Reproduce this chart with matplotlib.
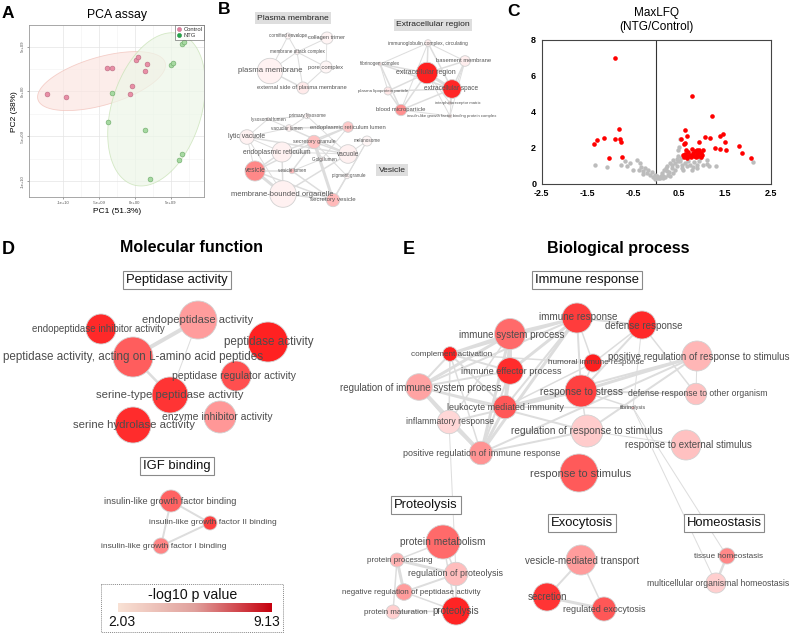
import numpy as np
import matplotlib
matplotlib.use("Agg")
import matplotlib.pyplot as plt
from matplotlib.patches import Circle, Rectangle
from matplotlib.lines import Line2D
from matplotlib.colors import LinearSegmentedColormap, Normalize

plt.rcParams['font.family'] = ['Liberation Sans', 'DejaVu Sans']
plt.rcParams['axes.unicode_minus'] = False

# ---------------- data ----------------
# Panel A: PCA scores
ctrl_pc1 = [-12.2e9, -9.6e9, -3.9e9, -3.15e9, -0.37e9, -0.74e9, 0.14e9, 0.37e9, 1.71e9, 1.39e9]
ctrl_pc2 = [-0.26e9, -0.63e9, 2.63e9, 2.63e9, 0.63e9, -0.33e9, 3.52e9, 3.78e9, 3.0e9, 2.26e9]
ntg_pc1 = [-3.15e9, -3.7e9, 1.34e9, 2.13e9, 6.06e9, 6.5e9, 4.95e9, 5.32e9, 6.53e9, 6.85e9]
ntg_pc2 = [-0.19e9, -3.41e9, -4.26e9, -9.78e9, -7.63e9, -6.93e9, 2.96e9, 3.22e9, 5.3e9, 5.52e9]
pca_ticks = [-1e10, -5e9, 0, 5e9]
pca_ticklabels = ["-1e+10", "-5e+09", "0e+00", "5e+09"]

# Panel C: volcano (log2 FC, -log10 p)
sig_fc = [-0.908, -0.821, -1.294, -1.352, -1.148, -0.908, -0.792, -0.763, -1.032, -0.749,
          0.778, 1.221, 0.625, 0.661, 0.538, 1.054, 1.170, 1.461, 1.395, 1.490, 0.930,
          1.810, 1.279, 1.395, 1.519, 1.868, 2.057, 0.603, 0.632,
          0.589, 0.632, 0.661, 0.698, 0.734, 0.770, 0.792, 0.821, 0.850, 0.879, 0.916,
          0.937, 0.966, 0.995, 1.010, 0.603, 0.676, 0.749, 0.807, 0.865, 0.923, 0.981,
          0.647, 0.712, 0.894]
sig_p = [7.00, 3.02, 2.43, 2.19, 2.51, 2.49, 2.47, 2.30, 1.42, 1.46,
         4.87, 3.74, 3.00, 2.65, 2.47, 2.56, 2.53, 2.76, 2.62, 2.32, 2.29,
         2.10, 1.95, 1.90, 1.84, 1.70, 1.44, 2.19, 2.25,
         1.60, 1.66, 1.51, 1.73, 1.60, 1.92, 1.70, 1.51, 1.79, 1.66, 1.55,
         1.84, 1.70, 1.59, 1.88, 1.46, 1.42, 1.46, 1.60, 1.47, 1.73, 1.47,
         1.84, 1.55, 1.88]
ns_fc = [-1.337, -1.083, -0.770, -0.676, -0.632, -0.429, -0.356, -0.334, -0.284, -0.196,
         -0.138, -0.066, -0.029, 0.065, 0.116, 0.167, 0.225, 0.298, 0.370, 0.443,
         0.516, 0.480, 0.552, 0.625, 0.661, 0.698, 0.734, 0.821, 0.894, 0.937,
         1.025, 1.097, 1.155, 1.293, 2.115, 0.516, 0.501, 0.225, 0.261, 0.334,
         0.407, 0.370, 0.443, 0.298, 0.189, 0.153, 0.080, 0.022, -0.247, -0.174,
         -0.502, -0.574, -0.371, -0.298, -0.102, 0.480, 0.552, 0.589, 0.334, 0.407,
         0.138, 0.043, -0.029, 0.879, 0.807, 0.770, 0.952, 1.097, 0.465, 0.530,
         0.276, 0.210, 0.094]
ns_p = [1.01, 0.90, 1.05, 1.23, 1.00, 1.33, 1.14, 0.92, 0.68, 0.59,
        0.48, 0.37, 0.26, 0.31, 0.59, 0.77, 0.96, 1.14, 1.29, 1.36,
        1.23, 1.51, 1.05, 1.14, 0.96, 1.23, 1.05, 1.18, 1.05, 1.23,
        1.05, 1.11, 1.00, 0.96, 1.20, 2.47, 2.03, 0.68, 0.50, 0.87,
        0.77, 0.59, 0.96, 0.41, 0.37, 0.44, 0.28, 0.41, 0.87, 0.77,
        0.77, 1.14, 0.77, 0.55, 0.63, 1.88, 0.87, 0.77, 1.05, 1.14,
        0.31, 0.30, 0.50, 0.87, 0.92, 0.77, 1.42, 1.33, 1.23, 1.42,
        0.63, 0.87, 0.41]

# Networks: (term, x, y, radius, -log10 p, font size, label dx, label dy) in figure pixels
b_nodes = [
    ("cornified envelope", 288, 36, 3, 2.1, 3.3, 0, 0),
    ("collagen trimer", 327, 38, 6, 2.1, 4.1, 0, 0),
    ("membrane attack complex", 297, 52, 2.5, 2.1, 3.3, 0, 0),
    ("plasma membrane", 270, 71, 12.7, 2.15, 5.6, 0, 0),
    ("pore complex", 326, 67, 6, 2.05, 4.2, 0, 0),
    ("external side of plasma membrane", 303, 88, 6, 2.4, 4.2, -1, 0),
    ("immunoglobulin complex, circulating", 428, 43, 3.3, 2.3, 3.5, 0, 0),
    ("fibrinogen complex", 380, 64, 1.8, 2.5, 3.3, 0, 0),
    ("extracellular region", 427, 73, 10.7, 9.0, 5.0, -1, 0),
    ("basement membrane", 465, 61, 5.3, 2.3, 4.2, -1, 0),
    ("extracellular space", 452, 89, 9.3, 8.8, 4.7, -1, 0),
    ("plasma lipoprotein particle", 388, 91, 4, 2.5, 3.2, -5, 0),
    ("interphotoreceptor matrix", 450, 103, 1.8, 2.5, 3.0, 8, 0),
    ("blood microparticle", 401, 110, 5.7, 5.0, 4.2, 0, 0),
    ("insulin-like growth factor binding protein complex", 450, 116, 1.8, 2.5, 3.1, 2, 0),
    ("lysosomal lumen", 268, 119, 1.5, 2.1, 3.3, 0, 0),
    ("primary lysosome", 307, 116, 2.7, 2.1, 3.3, 0, 0),
    ("vacuolar lumen", 289, 128, 3.3, 2.3, 3.3, -2, 0),
    ("endoplasmic reticulum lumen", 348, 127, 5.3, 3.4, 4.2, 0, 0),
    ("lytic vacuole", 247, 137, 7.3, 2.2, 4.9, 0, 0),
    ("secretory granule", 314, 142, 6.7, 3.6, 4.0, 0, 0),
    ("melanosome", 367, 141, 5, 2.05, 3.3, 0, 0),
    ("endoplasmic reticulum", 282, 152, 10, 2.2, 4.9, -5, 0),
    ("vacuole", 348, 154, 9.3, 2.2, 4.7, 0, 0),
    ("Golgi lumen", 322, 159, 2, 2.3, 3.3, 2, 0),
    ("vesicle", 255, 171, 10, 5.3, 4.9, 0, 0),
    ("vesicle lumen", 292, 171, 2.7, 3.8, 3.3, 0, 0),
    ("pigment granule", 347, 176, 2.7, 2.1, 3.3, 2, 0),
    ("membrane-bounded organelle", 283, 194, 13.3, 2.2, 5.5, -1, 0),
    ("secretory vesicle", 333, 200, 6.7, 3.8, 4.4, 0, 0),
]
b_edges = [
    ("plasma membrane", "cornified envelope", 1), ("plasma membrane", "membrane attack complex", 1),
    ("plasma membrane", "external side of plasma membrane", 1.5), ("membrane attack complex", "collagen trimer", 1),
    ("membrane attack complex", "pore complex", 1), ("membrane attack complex", "external side of plasma membrane", 1),
    ("pore complex", "external side of plasma membrane", 1), ("cornified envelope", "membrane attack complex", 1),
    ("cornified envelope", "collagen trimer", 0.8), ("collagen trimer", "pore complex", 0.8),
    ("extracellular region", "extracellular space", 3), ("extracellular region", "immunoglobulin complex, circulating", 1.5),
    ("extracellular region", "fibrinogen complex", 1.5), ("extracellular region", "basement membrane", 1.5),
    ("extracellular region", "plasma lipoprotein particle", 1.5), ("extracellular region", "blood microparticle", 1.5),
    ("extracellular region", "interphotoreceptor matrix", 1), ("extracellular region", "insulin-like growth factor binding protein complex", 1),
    ("extracellular space", "immunoglobulin complex, circulating", 1.5), ("extracellular space", "fibrinogen complex", 1.5),
    ("extracellular space", "basement membrane", 1.5), ("extracellular space", "plasma lipoprotein particle", 1.5),
    ("extracellular space", "blood microparticle", 1.5), ("extracellular space", "interphotoreceptor matrix", 1),
    ("extracellular space", "insulin-like growth factor binding protein complex", 1),
    ("immunoglobulin complex, circulating", "fibrinogen complex", 1), ("immunoglobulin complex, circulating", "basement membrane", 1),
    ("immunoglobulin complex, circulating", "blood microparticle", 1), ("fibrinogen complex", "plasma lipoprotein particle", 1),
    ("fibrinogen complex", "blood microparticle", 1.5), ("plasma lipoprotein particle", "blood microparticle", 1.5),
    ("blood microparticle", "insulin-like growth factor binding protein complex", 1),
    ("basement membrane", "interphotoreceptor matrix", 1), ("basement membrane", "insulin-like growth factor binding protein complex", 1),
    ("vesicle", "membrane-bounded organelle", 3), ("vesicle", "endoplasmic reticulum", 1.5), ("vesicle", "lytic vacuole", 1),
    ("vesicle", "vesicle lumen", 1.5), ("vesicle", "secretory vesicle", 1.5), ("vesicle", "secretory granule", 1.5),
    ("membrane-bounded organelle", "endoplasmic reticulum", 1.5), ("membrane-bounded organelle", "secretory vesicle", 1.5),
    ("membrane-bounded organelle", "vacuole", 1.5), ("membrane-bounded organelle", "lytic vacuole", 1),
    ("endoplasmic reticulum", "lytic vacuole", 1), ("endoplasmic reticulum", "endoplasmic reticulum lumen", 1.5),
    ("endoplasmic reticulum", "vacuole", 1), ("lytic vacuole", "vacuole", 1.5), ("lytic vacuole", "lysosomal lumen", 1),
    ("lytic vacuole", "vacuolar lumen", 1), ("vacuole", "vacuolar lumen", 1.5), ("vacuole", "melanosome", 1),
    ("vacuole", "secretory granule", 1.5), ("vacuole", "primary lysosome", 1), ("secretory granule", "secretory vesicle", 3),
    ("secretory granule", "vesicle lumen", 1.5), ("secretory granule", "Golgi lumen", 1), ("secretory granule", "endoplasmic reticulum lumen", 1.5),
    ("secretory granule", "pigment granule", 1), ("secretory vesicle", "vesicle lumen", 1.5), ("secretory vesicle", "pigment granule", 1.5),
    ("secretory vesicle", "melanosome", 1), ("endoplasmic reticulum lumen", "vacuolar lumen", 1.5),
    ("endoplasmic reticulum lumen", "Golgi lumen", 1), ("Golgi lumen", "vesicle lumen", 1),
    ("lysosomal lumen", "vacuolar lumen", 1), ("lysosomal lumen", "primary lysosome", 1),
    ("primary lysosome", "vacuolar lumen", 1), ("melanosome", "pigment granule", 1),
]
b_groups = [("Plasma membrane", 293, 18), ("Extracellular region", 433, 25), ("Vesicle", 392, 170)]

d_nodes = [
    ("endopeptidase activity", 198, 320, 19, 4.6, 8.0, 0, 0),
    ("endopeptidase inhibitor activity", 101, 329, 15, 8.7, 7.0, -3, 0),
    ("peptidase activity", 268, 342, 20, 9.0, 8.4, 1, 0),
    ("peptidase activity, acting on L-amino acid peptides", 133, 357, 20, 6.8, 8.4, 0, 0),
    ("peptidase regulator activity", 236, 376, 15, 7.3, 7.5, -2, 0),
    ("serine-type peptidase activity", 170, 395, 18, 8.3, 8.2, 0, 0),
    ("enzyme inhibitor activity", 220, 417, 16, 4.8, 7.5, -3, 0),
    ("serine hydrolase activity", 133, 425, 18, 8.6, 8.2, 1, 0),
    ("insulin-like growth factor binding", 171, 501, 11, 6.6, 6.7, -1, 0),
    ("insulin-like growth factor II binding", 210, 523, 7, 7.8, 6.0, 3, 0),
    ("insulin-like growth factor I binding", 161, 546, 8, 5.4, 6.0, 3, 1),
]
d_edges = [
    ("peptidase activity, acting on L-amino acid peptides", "endopeptidase activity", 4),
    ("peptidase activity, acting on L-amino acid peptides", "serine-type peptidase activity", 2.5),
    ("endopeptidase activity", "serine-type peptidase activity", 1),
    ("insulin-like growth factor binding", "insulin-like growth factor II binding", 2),
    ("insulin-like growth factor binding", "insulin-like growth factor I binding", 2),
    ("insulin-like growth factor II binding", "insulin-like growth factor I binding", 2),
]
d_groups = [("Peptidase activity", 177, 280), ("IGF binding", 177, 466)]

e_nodes = [
    ("immune response", 577, 318, 15, 8.0, 7.1, 1, -1),
    ("defense response", 642, 325, 14, 8.7, 7.0, 2, 1),
    ("immune system process", 510, 334, 15.5, 6.3, 7.0, 2, 1),
    ("complement activation", 450, 354, 7.3, 9.1, 5.9, 2, 0),
    ("positive regulation of response to stimulus", 697, 356, 15, 3.9, 7.0, 2, 1),
    ("humoral immune response", 593, 363, 9, 9.1, 5.9, 3, 0),
    ("immune effector process", 510, 371, 13.3, 8.6, 6.6, 1, 0),
    ("regulation of immune system process", 419, 387, 13.3, 4.4, 7.0, 2, 1),
    ("response to stress", 581, 391, 16, 7.8, 7.3, 0, 1),
    ("defense response to other organism", 696, 394, 10.7, 3.6, 6.2, 2, 0),
    ("leukocyte mediated immunity", 505, 407, 11.7, 7.0, 6.5, 0, 0),
    ("fibrinolysis", 633, 408, 1.7, 3.5, 4.0, 0, 0),
    ("inflammatory response", 449, 422, 11.7, 3.0, 6.2, 1, 0),
    ("regulation of response to stimulus", 587, 431, 16, 3.3, 7.3, 0, 0),
    ("response to external stimulus", 686, 445, 15, 3.6, 7.0, 2, 0),
    ("positive regulation of immune response", 481, 453, 11.7, 4.9, 6.5, 1, 1),
    ("response to stimulus", 579, 473, 19, 6.9, 7.9, 2, 1),
    ("protein metabolism", 443, 542, 17, 6.3, 7.3, 0, 0),
    ("protein processing", 397, 560, 7, 4.0, 5.8, 3, 0),
    ("regulation of proteolysis", 456, 574, 11.7, 3.7, 6.4, 0, 0),
    ("negative regulation of peptidase activity", 404, 592, 8.3, 4.6, 5.7, 7, 0),
    ("protein maturation", 393, 612, 7, 3.2, 5.7, 3, 0),
    ("proteolysis", 456, 611, 14, 8.9, 7.0, 0, 0),
    ("vesicle-mediated transport", 581, 560, 15, 4.6, 7.0, 1, 1),
    ("secretion", 547, 597, 14, 8.3, 7.0, 0, 0),
    ("regulated exocytosis", 604, 609, 12, 7.0, 6.5, 0, 1),
    ("tissue homeostasis", 727, 556, 8, 5.3, 5.9, 1, 1),
    ("multicellular organismal homeostasis", 716, 583, 10, 3.2, 6.2, 2, 1),
]
e_edges = [
    ("immune system process", "immune response", 3), ("immune system process", "complement activation", 3),
    ("immune system process", "immune effector process", 3), ("immune system process", "regulation of immune system process", 3),
    ("immune system process", "leukocyte mediated immunity", 3), ("immune system process", "positive regulation of immune response", 3),
    ("immune system process", "inflammatory response", 1.5),
    ("immune response", "complement activation", 2), ("immune response", "immune effector process", 3),
    ("immune response", "response to stress", 2), ("immune response", "leukocyte mediated immunity", 2),
    ("immune response", "regulation of immune system process", 2), ("immune response", "positive regulation of immune response", 3),
    ("immune response", "humoral immune response", 1.5), ("immune response", "defense response", 2),
    ("defense response", "response to stress", 2), ("defense response", "humoral immune response", 1.5),
    ("defense response", "defense response to other organism", 1.5), ("defense response", "fibrinolysis", 1),
    ("complement activation", "humoral immune response", 1.5), ("complement activation", "regulation of immune system process", 2),
    ("complement activation", "leukocyte mediated immunity", 2), ("complement activation", "positive regulation of immune response", 1.5),
    ("complement activation", "inflammatory response", 1.5), ("complement activation", "immune effector process", 2),
    ("immune effector process", "leukocyte mediated immunity", 3), ("immune effector process", "regulation of immune system process", 2),
    ("immune effector process", "positive regulation of immune response", 2),
    ("humoral immune response", "response to stress", 1.5), ("humoral immune response", "leukocyte mediated immunity", 1.5),
    ("regulation of immune system process", "leukocyte mediated immunity", 2),
    ("regulation of immune system process", "positive regulation of immune response", 4),
    ("regulation of immune system process", "inflammatory response", 2),
    ("regulation of immune system process", "regulation of response to stimulus", 2),
    ("response to stress", "leukocyte mediated immunity", 3), ("response to stress", "positive regulation of response to stimulus", 3),
    ("response to stress", "defense response to other organism", 2), ("response to stress", "fibrinolysis", 1.5),
    ("response to stress", "inflammatory response", 2), ("response to stress", "regulation of response to stimulus", 1.5),
    ("leukocyte mediated immunity", "positive regulation of immune response", 3),
    ("leukocyte mediated immunity", "positive regulation of response to stimulus", 2),
    ("leukocyte mediated immunity", "fibrinolysis", 1.5),
    ("inflammatory response", "positive regulation of immune response", 2),
    ("inflammatory response", "regulation of proteolysis", 1),
    ("regulation of response to stimulus", "positive regulation of response to stimulus", 2),
    ("regulation of response to stimulus", "positive regulation of immune response", 2),
    ("regulation of response to stimulus", "response to external stimulus", 1),
    ("positive regulation of response to stimulus", "positive regulation of immune response", 2),
    ("positive regulation of response to stimulus", "defense response to other organism", 1),
    ("fibrinolysis", "tissue homeostasis", 1), ("fibrinolysis", "multicellular organismal homeostasis", 1),
    ("tissue homeostasis", "multicellular organismal homeostasis", 2.5),
    ("protein metabolism", "protein processing", 1.5), ("protein metabolism", "regulation of proteolysis", 1.5),
    ("protein metabolism", "proteolysis", 1.5), ("protein processing", "regulation of proteolysis", 3),
    ("protein processing", "negative regulation of peptidase activity", 3), ("protein processing", "protein maturation", 1.5),
    ("negative regulation of peptidase activity", "regulation of proteolysis", 2),
    ("negative regulation of peptidase activity", "proteolysis", 1.5), ("protein maturation", "proteolysis", 1.5),
    ("regulation of proteolysis", "proteolysis", 2),
    ("vesicle-mediated transport", "secretion", 2), ("vesicle-mediated transport", "regulated exocytosis", 1.5),
    ("secretion", "regulated exocytosis", 3),
]
e_groups = [("Immune response", 587, 280), ("Proteolysis", 426, 505), ("Exocytosis", 582, 523), ("Homeostasis", 724, 523)]

pval_min, pval_max = 2.03, 9.13

# ---------------- figure ----------------
fig = plt.figure(figsize=(7.92, 6.33), dpi=100)
net = fig.add_axes([0, 0, 1, 1])
net.set_xlim(0, 792)
net.set_ylim(633, 0)
net.axis("off")

norm = Normalize(pval_min, pval_max)
node_cmap = LinearSegmentedColormap.from_list(
    "nodes", [(0, "#fff6f6"), (0.137, "#ffd6d6"), (0.362, "#ff9c9c"), (0.601, "#ff6a6a"), (1, "#ff1e1e")])
bar_cmap = LinearSegmentedColormap.from_list("bar", ["#f9e2d5", "#e0a09c", "#c6000e"])


def draw_net(nodes, edges, txt_color="#4d4d4d"):
    pos = {n[0]: (n[1], n[2]) for n in nodes}
    for a, b, w in edges:
        net.plot([pos[a][0], pos[b][0]], [pos[a][1], pos[b][1]], color="#dddddd",
                 lw=w * 0.72, zorder=1, solid_capstyle="round")
    for name, x, y, r, v, fs, dx, dy in nodes:
        net.add_patch(Circle((x, y), r, fc=node_cmap(norm(v)), ec="#d2d2d2", lw=0.6, zorder=2))
    for name, x, y, r, v, fs, dx, dy in nodes:
        net.text(x + dx, y + dy, name, fontsize=fs, ha="center", va="center", color=txt_color, zorder=3)


def draw_boxes(groups, fs=9.4):
    for label, x, y in groups:
        net.text(x, y, label, fontsize=fs, ha="center", va="center", color="#111111", zorder=4,
                 bbox=dict(boxstyle="square,pad=0.22", fc="white", ec="#8a8a8a", lw=0.8))


# Panel B
draw_net(b_nodes, b_edges, "#555555")
for label, x, y in b_groups:
    net.text(x, y, label, fontsize=6.1, ha="center", va="center", color="#222222", zorder=4,
             bbox=dict(boxstyle="square,pad=0.3", fc="#dedede", ec="none"))

# Panel D
draw_net(d_nodes, d_edges)
draw_boxes(d_groups)
net.text(192, 248, "Molecular function", fontsize=11.5, fontweight="bold", ha="center", va="center")

# colour legend
net.add_patch(Rectangle((101, 584), 182, 47.5, fill=False, ec="#8a8a8a", lw=0.7, ls=(0, (1, 1))))
net.text(193, 595, "-log10 p value", fontsize=10.2, ha="center", va="center", color="#111111")
grad = np.linspace(pval_min, pval_max, 256).reshape(1, -1)
net.imshow(grad, cmap=bar_cmap, norm=norm, extent=[117.5, 271.5, 612.3, 603.3], aspect="auto", zorder=2)
net.text(122, 622.5, f"{pval_min:.2f}", fontsize=10, ha="center", va="center", color="#111111")
net.text(267, 622.5, f"{pval_max:.2f}", fontsize=10, ha="center", va="center", color="#111111")

# Panel E
draw_net(e_nodes, e_edges)
draw_boxes(e_groups)
net.text(618, 248, "Biological process", fontsize=11.5, fontweight="bold", ha="center", va="center")

net.set_xlim(0, 792)
net.set_ylim(633, 0)

# panel letters
for letter, x, y, fs in [("A", 2, 14, 12.5), ("B", 218, 10, 12.5), ("C", 507, 11, 12.5),
                         ("D", 2, 249, 13), ("E", 403, 249, 13)]:
    net.text(x, y, letter, fontsize=fs, fontweight="bold", ha="left", va="center")

# ---------------- Panel A: PCA ----------------
axA = fig.add_axes([29.3 / 792, 1 - 197.3 / 633, 174.7 / 792, 172.3 / 633])
axA.set_xlim(-14.7e9, 9.6e9)
axA.set_ylim(-11.8e9, 7.4e9)
axA.set_xticks(pca_ticks)
axA.set_xticklabels(pca_ticklabels)
axA.set_yticks(pca_ticks)
axA.set_yticklabels(pca_ticklabels, rotation=90, va="center")
axA.set_xticks([-7.5e9, -2.5e9, 2.5e9, 7.5e9], minor=True)
axA.set_yticks([-7.5e9, -2.5e9, 2.5e9], minor=True)
axA.grid(True, which="major", color="#e4e4e4", lw=0.5)
axA.grid(True, which="minor", color="#f1f1f1", lw=0.4)
axA.tick_params(labelsize=3, colors="#555555", length=1.5, width=0.4, pad=1.5)
axA.tick_params(which="minor", length=0)
for s in axA.spines.values():
    s.set_color("#999999")
    s.set_linewidth(0.6)
axA.set_axisbelow(True)

t = np.linspace(0, 2 * np.pi, 200)
# ellipses: centre, half-axis vectors (data units)
for (cx, cy), (ax_, ay_), (bx_, by_), fc, ec in [
        ((-4.65e9, 1.15e9), (8.85e9, 2.05e9), (0.92e9, -2.57e9), "#fbe6e2", "#f1bdb5"),
        ((3.0e9, -2.0e9), (3.24e9, 8.41e9), (5.97e9, -1.47e9), "#edf6e8", "#c4e0b0")]:
    ex = cx + np.cos(t) * ax_ + np.sin(t) * bx_
    ey = cy + np.cos(t) * ay_ + np.sin(t) * by_
    axA.fill(ex, ey, fc=fc, ec=ec, lw=0.6, alpha=0.7, zorder=1)

axA.scatter(ctrl_pc1, ctrl_pc2, s=12, c="#e98ea6", edgecolors="#b86b80", linewidths=0.4, zorder=3)
axA.scatter(ntg_pc1, ntg_pc2, s=12, c="#a6d9a1", edgecolors="#6aa866", linewidths=0.4, zorder=3)
axA.set_xlabel("PC1 (51.3%)", fontsize=6, labelpad=2)
axA.set_ylabel("PC2 (38%)", fontsize=6, labelpad=2)
axA.set_title("PCA assay", fontsize=8.8, pad=5)
handles = [Line2D([], [], marker="o", ls="", ms=3, mfc="#e07fa0", mec="#b86b80", mew=0.3, label="Control"),
           Line2D([], [], marker="o", ls="", ms=3, mfc="#22a84a", mec="#1a7a36", mew=0.3, label="NTG")]
leg = axA.legend(handles=handles, loc="upper right", bbox_to_anchor=(1.0, 1.0), fontsize=4.2,
                 frameon=True, fancybox=False, borderpad=0.3, handletextpad=0.3, labelspacing=0.15,
                 handlelength=0.8, borderaxespad=0.0)
leg.get_frame().set_edgecolor("#555555")
leg.get_frame().set_linewidth(0.5)
for txt in leg.get_texts():
    txt.set_color("#333333")

# ---------------- Panel C: volcano ----------------
axC = fig.add_axes([541.7 / 792, 1 - 183.5 / 633, 229.3 / 792, 144 / 633])
axC.scatter(ns_fc, ns_p, s=10, c="#bcbcbc", linewidths=0, zorder=2)
axC.scatter(sig_fc, sig_p, s=11, c="#ff0000", linewidths=0, zorder=3)
axC.axvline(0, color="#333333", lw=0.8, zorder=1)
axC.set_xlim(-2.5, 2.5)
axC.set_ylim(0, 8)
axC.set_xticks([-2.5, -1.5, -0.5, 0.5, 1.5, 2.5])
axC.set_yticks([0, 2, 4, 6, 8])
axC.tick_params(labelsize=6.5, length=0, pad=4)
for lab in axC.get_xticklabels() + axC.get_yticklabels():
    lab.set_fontweight("bold")
for s in axC.spines.values():
    s.set_color("#444444")
    s.set_linewidth(0.8)
axC.set_title("MaxLFQ\n(NTG/Control)", fontsize=8.5, pad=7, linespacing=1.2)

fig.savefig("out.png", dpi=100)
